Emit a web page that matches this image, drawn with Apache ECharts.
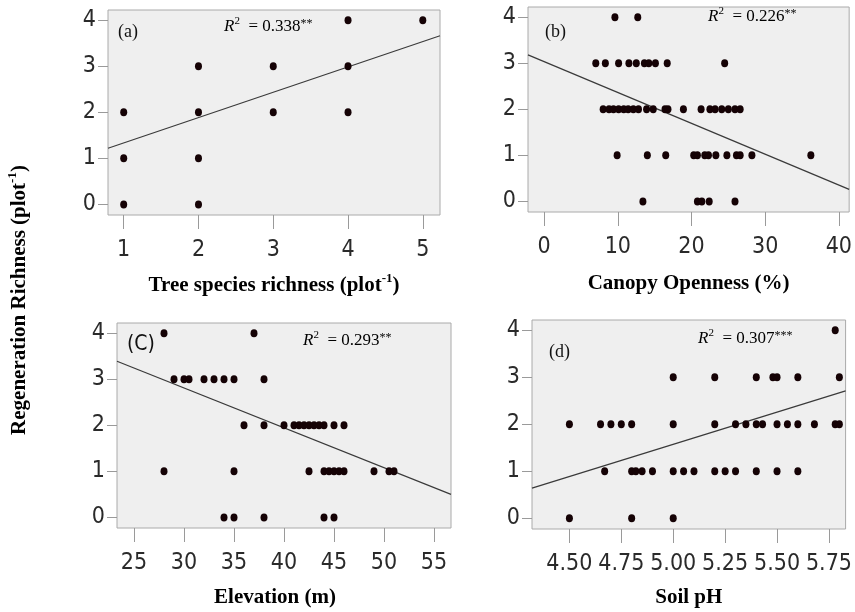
<!DOCTYPE html>
<html>
<head>
<meta charset="utf-8">
<script src="https://cdn.jsdelivr.net/npm/echarts@6/dist/echarts.min.js"></script>
<style>
html,body{margin:0;padding:0;background:#fff}
#chart{width:855px;height:612px}
</style>
</head>
<body>
<div id="chart"></div>
<script>
// y values are the same scale in every panel
const yTicks = [0, 1, 2, 3, 4]

// (a) tree species richness
const aX = [1, 1, 1, 2, 2, 2, 2, 3, 3, 4, 4, 4, 5]
const aY = [2, 1, 0, 3, 2, 1, 0, 3, 2, 4, 3, 2, 4]
const aTicks = [1, 2, 3, 4, 5]
const aFit = [[0.79, 1.22], [5.23, 3.66]]

// (b) canopy openness
const bX = [9.6, 12.7,
  7.0, 8.3, 10.1, 11.5, 12.5, 13.6, 14.2, 15.1, 16.7, 24.5,
  8.0, 8.8, 9.4, 10.1, 10.8, 11.4, 12.1, 12.8, 13.9, 14.8, 16.4, 16.8, 18.9, 21.3, 22.5, 23.2, 24.1, 25.0, 25.9, 26.6,
  9.9, 14.0, 16.5, 20.3, 20.8, 21.8, 22.3, 23.3, 24.8, 26.1, 26.6, 28.2, 36.2,
  13.4, 20.8, 21.4, 22.4, 25.9]
const bY = [4, 4,
  3, 3, 3, 3, 3, 3, 3, 3, 3, 3,
  2, 2, 2, 2, 2, 2, 2, 2, 2, 2, 2, 2, 2, 2, 2, 2, 2, 2, 2, 2,
  1, 1, 1, 1, 1, 1, 1, 1, 1, 1, 1, 1, 1,
  0, 0, 0, 0, 0]
const bTicks = [0, 10, 20, 30, 40]
const bFit = [[-2.2, 3.18], [41.4, 0.26]]

// (c) elevation
const cX = [28, 37,
  29, 30, 30.5, 32, 33, 34, 35, 38,
  36, 38, 40, 41, 41.5, 42, 42.5, 43, 43.5, 44, 45, 46,
  28, 35, 42.5, 44, 44.5, 45, 45.5, 46, 49, 50.5, 51,
  34, 35, 38, 44, 45]
const cY = [4, 4,
  3, 3, 3, 3, 3, 3, 3, 3,
  2, 2, 2, 2, 2, 2, 2, 2, 2, 2, 2, 2,
  1, 1, 1, 1, 1, 1, 1, 1, 1, 1, 1,
  0, 0, 0, 0, 0]
const cTicks = [25, 30, 35, 40, 45, 50, 55]
const cFit = [[23.3, 3.39], [56.7, 0.5]]

// (d) soil pH
const dX = [5.78,
  5.0, 5.2, 5.4, 5.48, 5.5, 5.6, 5.8,
  4.5, 4.65, 4.7, 4.75, 4.8, 5.0, 5.2, 5.3, 5.35, 5.4, 5.43, 5.5, 5.55, 5.6, 5.68, 5.78, 5.8,
  4.67, 4.8, 4.82, 4.85, 4.9, 5.0, 5.05, 5.1, 5.2, 5.25, 5.3, 5.4, 5.5, 5.6,
  4.5, 4.8, 5.0]
const dY = [4,
  3, 3, 3, 3, 3, 3, 3,
  2, 2, 2, 2, 2, 2, 2, 2, 2, 2, 2, 2, 2, 2, 2, 2, 2,
  1, 1, 1, 1, 1, 1, 1, 1, 1, 1, 1, 1, 1, 1,
  0, 0, 0]
const dTicks = [4.5, 4.75, 5, 5.25, 5.5, 5.75]
const dFit = [[4.32, 0.64], [5.83, 2.71]]

const tickFont = '"Liberation Sans Narrow","Arial Narrow","DejaVu Sans Condensed",sans-serif'
const serif = '"Liberation Serif","Times New Roman",serif'

const zip = (xs, ys) => xs.map((x, i) => [x, ys[i]])

const nameRich = {
  n: {fontFamily: serif, fontWeight: 'bold', fontSize: 21, color: '#000'},
  s: {fontFamily: serif, fontWeight: 'bold', fontSize: 13, color: '#000', padding: [0, 0, 14, 0]}
}

const makeX = (idx, min, max, ticks, name, gap, fmt, pad) => ({
  gridIndex: idx, type: 'value', min: min, max: max,
  name: name, nameLocation: 'middle', nameGap: gap,
  nameTextStyle: {rich: nameRich, padding: pad || 0},
  axisLine: {show: false, onZero: false},
  axisTick: {show: true, length: 14, customValues: ticks, lineStyle: {color: '#9a9a9a'}},
  axisLabel: {customValues: ticks, margin: 24, fontSize: 23, fontFamily: tickFont, color: '#2a2a2a', formatter: fmt},
  splitLine: {show: false}
})

const makeY = (idx) => ({
  gridIndex: idx, type: 'value', min: -0.23, max: 4.22,
  axisLine: {show: false, onZero: false},
  axisTick: {show: true, length: 10, customValues: yTicks, lineStyle: {color: '#9a9a9a'}},
  axisLabel: {customValues: yTicks, margin: 12, fontSize: 23, fontFamily: tickFont, color: '#2a2a2a'},
  splitLine: {show: false}
})

const gridStyle = {show: true, backgroundColor: '#efefef', borderColor: '#aaaaaa', borderWidth: 1}

const dots = (idx, data) => ({
  type: 'scatter', xAxisIndex: idx, yAxisIndex: idx, data: data,
  symbolSize: [7, 8], itemStyle: {color: '#150205', opacity: 1}, z: 3
})

const fitLine = (idx, data) => ({
  type: 'line', xAxisIndex: idx, yAxisIndex: idx, data: data,
  symbol: 'none', lineStyle: {color: '#3a3a3a', width: 1.2}, z: 2
})

const r2Rich = {
  i: {fontFamily: serif, fontStyle: 'italic', fontSize: 17, color: '#222'},
  s: {fontFamily: serif, fontSize: 11, color: '#222', padding: [0, 0, 12, 0]},
  t: {fontFamily: serif, fontSize: 17, color: '#222'},
  a: {fontFamily: serif, fontSize: 12, color: '#222', padding: [0, 0, 6, 0]}
}
const r2 = (x, y, val, stars) => ({
  type: 'text', x: x, y: y,
  style: {text: '{i|R}{s|2}{t|  = ' + val + '}{a|' + stars + '}', rich: r2Rich, verticalAlign: 'middle'}
})
const tag = (x, y, txt, font) => ({
  type: 'text', x: x, y: y,
  style: {text: txt, font: font, fill: '#111', verticalAlign: 'middle'}
})

const chart = echarts.init(document.getElementById('chart'))
chart.setOption({
  animation: false,
  backgroundColor: '#fff',
  grid: [
    Object.assign({left: 108, top: 10, width: 332, height: 205}, gridStyle),
    Object.assign({left: 528, top: 7, width: 327, height: 205}, gridStyle),
    Object.assign({left: 117, top: 323, width: 334, height: 205}, gridStyle),
    Object.assign({left: 532, top: 320, width: 323, height: 209}, gridStyle)
  ],
  xAxis: [
    makeX(0, 0.79, 5.23, aTicks, '{n|Tree species richness (plot}{s|-1}{n|)}', 57),
    makeX(1, -2.2, 41.4, bTicks, '{n|Canopy Openness (%)}', 61),
    makeX(2, 23.3, 56.7, cTicks, '{n|Elevation (m)}', 59, null, [0, 18, 0, 0]),
    makeX(3, 4.32, 5.83, dTicks, '{n|Soil pH}', 58, (v) => v.toFixed(2))
  ],
  yAxis: [makeY(0), makeY(1), makeY(2), makeY(3)],
  series: [
    fitLine(0, aFit), dots(0, zip(aX, aY)),
    fitLine(1, bFit), dots(1, zip(bX, bY)),
    fitLine(2, cFit), dots(2, zip(cX, cY)),
    fitLine(3, dFit), dots(3, zip(dX, dY))
  ],
  graphic: [
    {
      type: 'text', x: 20, y: 300, rotation: Math.PI / 2,
      style: {
        text: '{n|Regeneration Richness (plot}{s|-1}{n|)}', rich: nameRich,
        align: 'center', verticalAlign: 'middle'
      }
    },
    tag(118, 32, '(a)', '18px ' + serif),
    tag(545, 32, '(b)', '18px ' + serif),
    tag(127, 345, '(C)', '21px ' + tickFont),
    tag(549, 352, '(d)', '18px ' + serif),
    r2(224, 27, '0.338', '**'),
    r2(708, 17, '0.226', '**'),
    r2(303, 341, '0.293', '**'),
    r2(698, 339, '0.307', '***')
  ]
})
</script>
</body>
</html>
